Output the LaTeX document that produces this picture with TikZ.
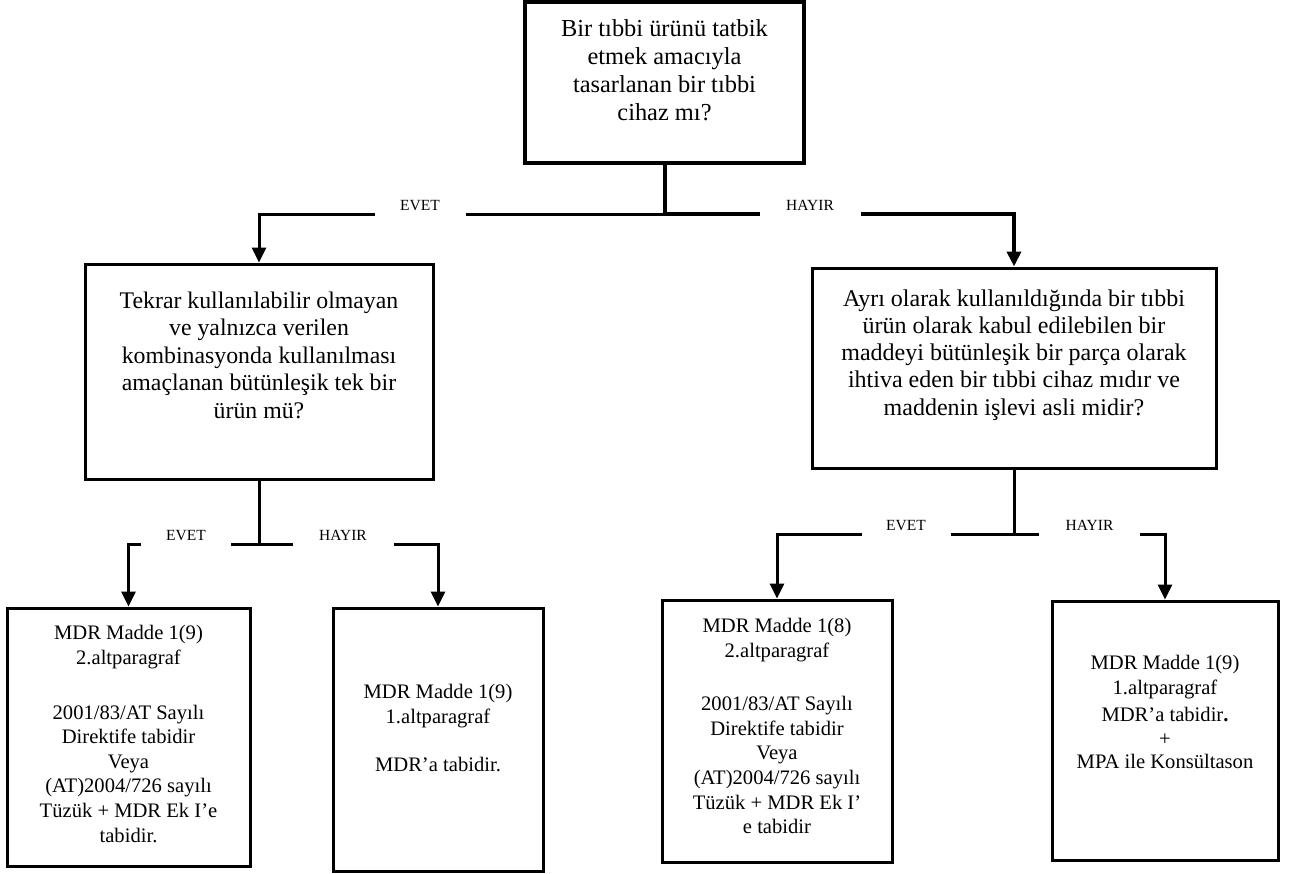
\documentclass[tikz,border=0pt]{standalone}
\usepackage{fontspec}
\setmainfont{Liberation Serif}
\usetikzlibrary{arrows.meta}
\begin{document}
\begin{tikzpicture}[x=1pt,y=-1pt,
  box/.style={draw=black, line width=3pt, inner sep=0pt},
  qtext/.style={align=center, inner sep=0pt, font=\fontsize{23.8}{27.5}\selectfont},
  rtext/.style={align=center, inner sep=0pt, font=\fontsize{20.6}{24.6}\selectfont},
  lbl/.style={fill=white, inner sep=0pt, minimum height=36pt, text height=5pt, text depth=12pt, font=\fontsize{15.5}{18}\selectfont},
  conn/.style={line width=3pt},
  arr/.style={conn, -{Triangle[length=15pt,width=14pt]}}]
\useasboundingbox (0,0) rectangle (1296,873);
\fill[white] (0,0) rectangle (1296,873);

% boxes
\node[box, line width=4pt, minimum width=279pt, minimum height=161pt] (t) at (664.5,82.5) {};
\node[box, minimum width=348pt, minimum height=215pt] (q2) at (259,371.5) {};
\node[box, minimum width=404pt, minimum height=200pt] (q3) at (1014,368) {};
\node[box, minimum width=243pt, minimum height=258pt] (b1) at (128.5,737) {};
\node[box, minimum width=210pt, minimum height=263pt] (b2) at (438,739.5) {};
\node[box, minimum width=230pt, minimum height=262pt] (b3) at (777,731) {};
\node[box, minimum width=226pt, minimum height=259pt] (b4) at (1165,730.5) {};

% texts
\node[qtext, font=\fontsize{24.4}{28}\selectfont] (tt) at (664.5,70) {Bir tıbbi ürünü tatbik\\etmek amacıyla\\tasarlanan bir tıbbi\\cihaz mı?};
\node[qtext] (q2t) at (259,355) {Tekrar kullanılabilir olmayan\\ve yalnızca verilen\\kombinasyonda kullanılması\\amaçlanan bütünleşik tek bir\\ürün mü?};
\node[qtext, font=\fontsize{24}{27.2}\selectfont] (q3t) at (1014,355) {Ayrı olarak kullanıldığında bir tıbbi\\ürün olarak kabul edilebilen bir\\maddeyi bütünleşik bir parça olarak\\ihtiva eden bir tıbbi cihaz mıdır ve\\maddenin işlevi asli midir?};
\node[rtext] (b1t) at (128.5,734) {MDR Madde 1(9)\\2.altparagraf\\[30pt]2001/83/AT Sayılı\\Direktife tabidir\\Veya\\(AT)2004/726 sayılı\\Tüzük + MDR Ek I’e\\tabidir.};
\node[rtext] (b2t) at (438,728) {MDR Madde 1(9)\\1.altparagraf\\[24pt]MDR’a tabidir.};
\node[rtext] (b3t) at (777,726) {MDR Madde 1(8)\\2.altparagraf\\[29pt]2001/83/AT Sayılı\\Direktife tabidir\\Veya\\(AT)2004/726 sayılı\\Tüzük + MDR Ek I’\\e tabidir};
\node[rtext] (b4t) at (1165,712) {MDR Madde 1(9)\\1.altparagraf\\[2pt]MDR’a tabidir\textbf{.}\\+\\[-2pt]MPA ile Konsültason};

% junctions
\coordinate (jT) at (664.5,214);
\coordinate (j2) at (259,544);
\coordinate (j3) at (1014,534);

% connectors
\draw[conn, line width=4pt] (t.south) -- (jT);
\draw[arr] (jT) -| (q2.north);
\draw[arr, line width=4pt] (jT) -| (q3.north);
\draw[conn] (q2.south) -- (j2);
\draw[arr] (j2) -| (b1.north);
\draw[arr] (j2) -| (b2.north);
\draw[conn] (q3.south) -- (j3);
\draw[arr] (j3) -| (b3.north);
\draw[arr] (j3) -| (b4.north);

% labels
\node[lbl, minimum width=91pt] (l1) at (420,214) {EVET};
\node[lbl, minimum width=101pt] (l2) at (810,214) {HAYIR};
\node[lbl, minimum width=90pt] (l3) at (186,544) {EVET};
\node[lbl, minimum width=101pt] (l4) at (343,544) {HAYIR};
\node[lbl, minimum width=89pt] (l5) at (906,534) {EVET};
\node[lbl, minimum width=101pt] (l6) at (1089.5,534) {HAYIR};
\end{tikzpicture}
\end{document}
